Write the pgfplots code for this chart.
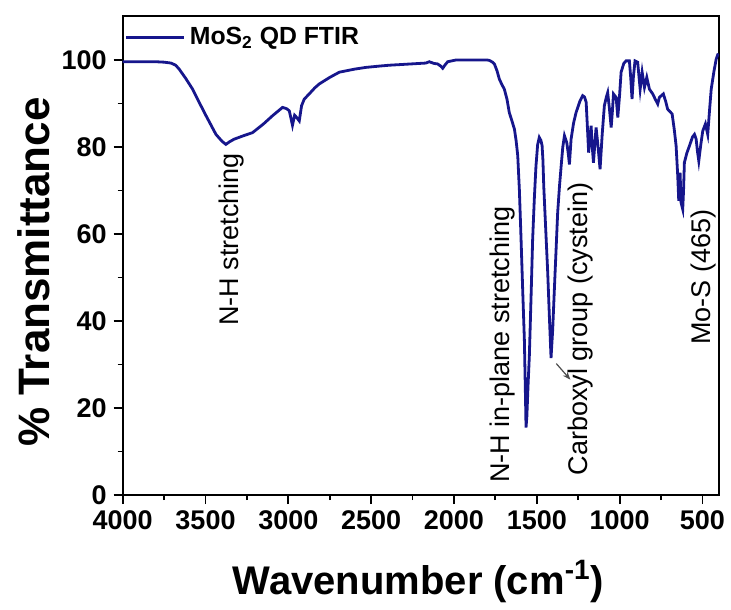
\documentclass[border=0pt]{standalone}
\usepackage{fontspec}
\setmainfont{Liberation Sans}
\usepackage{pgfplots}
\pgfplotsset{compat=1.18}
\usetikzlibrary{arrows.meta}
\definecolor{navy}{RGB}{22,22,140}
\begin{document}
\begin{tikzpicture}
\useasboundingbox (-61.35pt,-57pt) rectangle (304.15pt,247.5pt);
\begin{axis}[
  width=298.15pt, height=239.25pt, scale only axis,
  x dir=reverse, xmin=400, xmax=4000, ymin=0, ymax=110,
  xtick={500,1000,...,4000}, ytick={0,20,...,100},
  minor x tick num=1, minor y tick num=1,
  tick pos=left, tick align=outside,
  major tick length=4.5pt, minor tick length=2.5pt,
  tick style={black, line width=0.9pt},
  axis line style={line width=1pt},
  /pgf/number format/assume math mode=true,
  /pgf/number format/1000 sep={},
  tick label style={font=\fontsize{13.5}{16}\selectfont\bfseries},
  xlabel={Wavenumber (cm\textsuperscript{-1})},
  ylabel={\% Transmittance},
  xlabel style={font=\fontsize{20}{24}\selectfont\bfseries, at={(axis description cs:0.496,-0.180)}, anchor=center},
  ylabel style={font=\fontsize{22}{26}\selectfont\bfseries, at={(axis description cs:-0.149,0.466)}, anchor=center},
  legend style={at={(axis description cs:0.004,0.956)}, anchor=west, draw=none, fill=none,
    font=\fontsize{12.4}{15}\selectfont\bfseries, inner sep=0pt, outer sep=0pt},
  legend image code/.code={\draw[#1] (0pt,0pt) -- (29pt,0pt);},
]
\addplot[navy, line width=1.4pt] coordinates {
(4000,99.6) (3900,99.6) (3800,99.6) (3750,99.5) (3709,99.3) (3680,98.8) (3659,97.9)
(3620,95.8) (3578,93.3) (3540,90.4) (3497,87.2) (3437,82.9) (3400,81.3) (3377,80.6)
(3355,81.2) (3327,81.8) (3270,82.6) (3216,83.3) (3150,85.3) (3095,87.2) (3035,89.1)
(3010,88.8) (2994,88.3) (2975,85.0) (2962,87.3) (2950,86.8) (2934,86.0) (2920,89.5)
(2904,91.0) (2874,92.2) (2840,93.6) (2813,94.5) (2750,96.0) (2692,97.2) (2600,97.9)
(2531,98.3) (2450,98.6) (2390,98.8) (2300,99.0) (2169,99.3) (2149,99.6) (2120,99.2)
(2099,99.1) (2080,98.6) (2068,98.1) (2055,98.8) (2038,99.6) (1988,100) (1900,100)
(1800,100) (1786,99.9) (1767,99.5) (1756,99.1) (1740,97.5) (1726,95.6) (1710,94.3)
(1696,93.3) (1680,91.0) (1666,87.9) (1650,86.0) (1635,84.1) (1625,81.5) (1615,78.0)
(1605,70.0) (1595,58.8) (1585,47.0) (1575,35.7) (1568,22.0) (1565,15.5) (1560,18.0)
(1553,25.0) (1545,31.9) (1535,45.0) (1525,58.8) (1515,68.0) (1505,75.6) (1495,80.5)
(1485,82.2) (1475,81.5) (1468,80.3) (1463,77.0) (1458,71.0) (1446,61.0) (1434,51.1)
(1424,41.0) (1414,31.5) (1404,38.0) (1394,47.2) (1384,56.0) (1374,64.9) (1363,71.0)
(1353,75.6) (1343,80.0) (1333,82.6) (1319,81.0) (1310,78.5) (1303,76.0) (1293,81.8)
(1278,85.5) (1263,87.9) (1240,90.5) (1223,91.8) (1212,91.5) (1202,90.3) (1195,85.0)
(1187,78.7) (1180,82.0) (1172,84.9) (1165,80.0) (1158,76.4) (1150,80.5) (1142,84.5)
(1130,80.0) (1118,74.9) (1105,83.0) (1092,89.5) (1080,91.5) (1072,92.5) (1062,89.0)
(1051,84.5) (1044,88.0) (1037,92.2) (1021,91.4) (1011,86.8) (1000,92.0) (991,97.2)
(975,99.2) (961,99.8) (941,99.8) (933,96.0) (925,91.0) (917,96.0) (907,99.8)
(891,99.5) (876,93.3) (864,97.2) (850,93.7) (836,96.0) (820,93.3) (800,92.2)
(785,91.0) (770,89.9) (760,91.4) (736,92.2) (722,90.5) (710,88.7) (683,87.6)
(670,84.0) (659,80.3) (649,73.3) (643,67.6) (635,74.1) (629,67.2) (619,65.7)
(614,70.0) (609,76.4) (595,78.5) (578,80.3) (560,82.3) (548,82.9) (538,81.8)
(530,79.0) (522,76.8) (510,80.5) (498,83.7) (482,85.3) (468,82.9) (458,88.0)
(447,93.3) (430,97.5) (417,100.2) (405,101.5)
};
\addlegendentry{MoS\textsubscript{2} QD FTIR}
\node[rotate=90, font=\fontsize{13.5}{16}\selectfont] at (axis cs:3341,58.7) {N-H stretching};
\node[rotate=90, font=\fontsize{13.5}{16}\selectfont] at (axis cs:1706,34.6) {N-H in-plane stretching};
\node[rotate=90, font=\fontsize{13.5}{16}\selectfont] at (axis cs:1236,38.2) {Carboxyl group (cystein)};
\node[rotate=90, font=\fontsize{13.5}{16}\selectfont] at (axis cs:494,50.1) {Mo-S (465)};
\draw[-{Stealth[length=4pt,width=3pt]}, black!70, line width=0.6pt] (axis cs:1382,30.2) -- (axis cs:1297,26.5);
\end{axis}
\end{tikzpicture}
\end{document}
